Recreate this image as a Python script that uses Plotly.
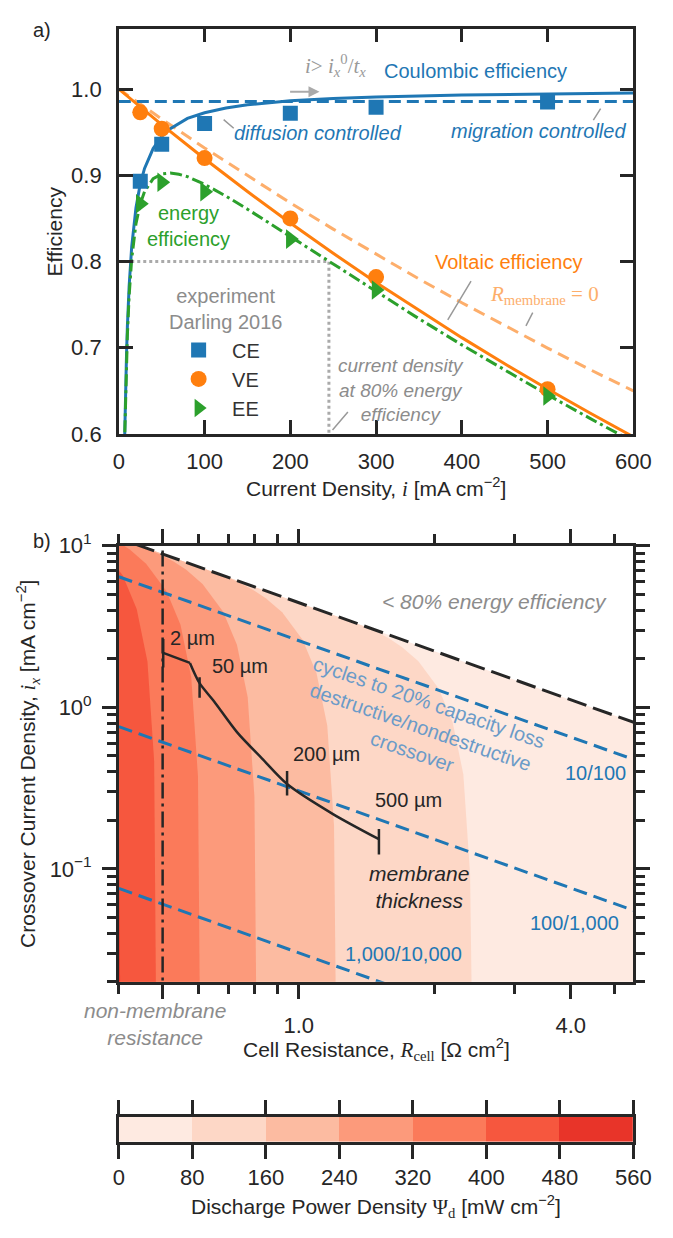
import math
import plotly.graph_objects as go

# ---------------- panel a) data ----------------
i_exp = [25, 50, 100, 200, 300, 500]
ce_exp = [0.893, 0.936, 0.960, 0.972, 0.979, 0.985]
ve_exp = [0.973, 0.954, 0.920, 0.850, 0.782, 0.652]
ee_exp = [0.867, 0.892, 0.881, 0.826, 0.767, 0.644]

ce_model_i = [6.9, 7, 8, 9, 10, 12, 15, 20, 25, 30, 40, 50, 60, 80, 100, 125, 150,
              200, 250, 300, 400, 500, 600]
ce_model = [0.600, 0.607, 0.656, 0.694, 0.725, 0.771, 0.817, 0.8625, 0.890, 0.908,
            0.931, 0.945, 0.954, 0.966, 0.9725, 0.978, 0.9817, 0.9863, 0.989, 0.9908,
            0.9931, 0.9945, 0.9954]
ce_migr_i = [0, 600]
ce_migr = [0.9855, 0.9855]

ve_model_i = [0, 50, 100, 150, 200, 250, 300, 350, 400, 450, 500, 550, 600]
ve_model = [1.0, 0.9588, 0.9192, 0.8812, 0.8447, 0.8096, 0.7757, 0.7432, 0.7117,
            0.6814, 0.6522, 0.6240, 0.5967]
ve_r0_i = [0, 50, 100, 150, 200, 250, 300, 350, 400, 450, 500, 550, 600]
ve_r0 = [1.0, 0.9653, 0.9317, 0.8993, 0.8679, 0.8376, 0.8082, 0.7798, 0.7522, 0.7255,
         0.6996, 0.6744, 0.6500]

ee_model_i = [7, 8, 9, 10, 12, 15, 20, 25, 30, 40, 50, 60, 70, 80, 100, 125, 150, 200,
              250, 300, 350, 400, 450, 500, 550, 590]
ee_model = [0.602, 0.648, 0.685, 0.715, 0.760, 0.803, 0.844, 0.867, 0.881, 0.896, 0.9015,
            0.9026, 0.9012, 0.8984, 0.8895, 0.8758, 0.8607, 0.8290, 0.7967, 0.7647,
            0.7337, 0.7033, 0.6739, 0.6454, 0.6178, 0.5962]

ee_target_i = [14.5, 245, 245]
ee_target = [0.8, 0.8, 0.6]

# ---------------- panel b) data ----------------
# boundaries of the discharge-power bands (R_cell [Ohm cm2], i_x [mA cm-2])
b80_R = [2.42, 2.3946, 2.3138, 2.1903, 2.0403, 1.8385, 1.6916, 1.5858, 1.4905, 1.4077, 1.3211]
b80_ix = [0.01, 0.0929, 0.3846, 0.8127, 1.3086, 1.9364, 2.3676, 2.6658, 2.9259, 3.1454, 3.3684]
b160_R = [1.21, 1.1973, 1.1569, 1.0952, 1.0202, 0.9193, 0.8458, 0.7929, 0.7453, 0.7039, 0.6606]
b160_ix = [0.01, 0.1858, 0.7692, 1.6254, 2.6172, 3.8728, 4.7352, 5.3316, 5.8518, 6.2908, 6.7368]
b240_R = [0.8067, 0.7982, 0.7713, 0.7301, 0.6801, 0.6128, 0.5639, 0.5286, 0.4968, 0.4692, 0.4404]
b240_ix = [0.01, 0.2787, 1.1538, 2.4381, 3.9258, 5.8092, 7.1028, 7.9974, 8.7777, 9.4362, 10.105]
b320_R = [0.605, 0.5987, 0.5785, 0.5476, 0.5101, 0.4596, 0.4229, 0.3965, 0.3726, 0.3519, 0.3303]
b320_ix = [0.01, 0.3716, 1.5384, 3.2508, 5.2344, 7.7456, 9.4704, 10.663, 11.704, 12.582, 13.474]
b400_R = [0.484, 0.4789, 0.4628, 0.4381, 0.4081, 0.3677, 0.3383, 0.3172, 0.2981, 0.2815, 0.2642]
b400_ix = [0.01, 0.4645, 1.923, 4.0635, 6.543, 9.682, 11.838, 13.329, 14.630, 15.727, 16.842]
b480_R = [0.4033, 0.3991, 0.3856, 0.3651, 0.3401, 0.3064, 0.2819, 0.2643, 0.2484, 0.2346, 0.2202]
b480_ix = [0.01, 0.5574, 2.3076, 4.8762, 7.8516, 11.618, 14.206, 15.995, 17.555, 18.872, 20.21]

limit_R = [0.2, 6.0]          # < 80 % energy efficiency limit
limit_ix = [22.25, 0.7417]

cyc1_R = [0.4, 5.5]; cyc1_ix = [6.43, 0.477]      # 10/100
cyc2_R = [0.4, 5.5]; cyc2_ix = [0.76, 0.0554]     # 100/1,000
cyc3_R = [0.4, 5.5]; cyc3_ix = [0.0757, 0.0055]   # 1,000/10,000

nonmem_R = [0.5, 0.5]; nonmem_ix = [0.01, 20]

membrane_R = [0.5015, 0.5746, 0.6036, 0.650, 0.731, 0.830, 0.9426, 1.191, 1.505]
membrane_ix = [2.176, 1.884, 1.411, 1.087, 0.70, 0.482, 0.3353, 0.2185, 0.1527]
mtick_R = [0.5015, 0.6036, 0.9426, 1.505]
mtick_lo = [1.765, 1.145, 0.285, 0.1227]
mtick_hi = [2.645, 1.535, 0.4036, 0.1765]
mtick_lab = ["2 µm", "50 µm", "200 µm", "500 µm"]
mlab_R = [0.514, 0.637, 0.963, 1.458]
mlab_ix = [2.693, 1.815, 0.5168, 0.2656]

levels = [0, 80, 160, 240, 320, 400, 480, 560]
level_colors = ['#feeae1', '#fdd7c6', '#fcbba1', '#fc9a7b', '#fb7a5a', '#f6573e', '#e83429']

# ---------------- layout geometry ----------------
W, H = 673, 1238
def px(x): return x / W
def py(y): return 1 - y / H
XD = [px(117), px(650.5)]
TOP_D = [py(428), py(13)]
BOT_D = [py(989), py(542.5)]
CB_D = [py(1153), py(1127)]

INK = '#262626'
BLUE, ORANGE, GREEN = '#1f77b4', '#ff7f0e', '#2ca02c'
LORANGE = '#fdae6b'
GRAY = '#8c8c8c'
FONT = 'Liberation Sans, Arial, sans-serif'
SERIF = 'Liberation Serif, Times New Roman, serif'

fig = go.Figure()

# ----- panel a traces -----
fig.add_trace(go.Scatter(x=ee_target_i, y=ee_target, mode='lines', xaxis='x', yaxis='y',
                         line=dict(color='#aaaaaa', width=3, dash='dot'), showlegend=False))
fig.add_trace(go.Scatter(x=ve_r0_i, y=ve_r0, mode='lines', xaxis='x', yaxis='y',
                         line=dict(color=LORANGE, width=3, dash='12px,7px'), showlegend=False))
fig.add_trace(go.Scatter(x=ce_migr_i, y=ce_migr, mode='lines', xaxis='x', yaxis='y',
                         line=dict(color=BLUE, width=3, dash='12px,6px'), showlegend=False))
fig.add_trace(go.Scatter(x=ce_model_i, y=ce_model, mode='lines', xaxis='x', yaxis='y',
                         line=dict(color=BLUE, width=3), showlegend=False))
fig.add_trace(go.Scatter(x=ve_model_i, y=ve_model, mode='lines', xaxis='x', yaxis='y',
                         line=dict(color=ORANGE, width=3), showlegend=False))
fig.add_trace(go.Scatter(x=ee_model_i, y=ee_model, mode='lines', xaxis='x', yaxis='y',
                         line=dict(color=GREEN, width=3, dash='12px,4px,3px,4px'), showlegend=False))
fig.add_trace(go.Scatter(x=i_exp, y=ce_exp, mode='markers', name='CE', xaxis='x', yaxis='y',
                         marker=dict(symbol='square', size=15, color=BLUE)))
fig.add_trace(go.Scatter(x=i_exp, y=ve_exp, mode='markers', name='VE', xaxis='x', yaxis='y',
                         marker=dict(symbol='circle', size=16, color=ORANGE)))
fig.add_trace(go.Scatter(x=i_exp, y=ee_exp, mode='markers', name='EE', xaxis='x', yaxis='y',
                         marker=dict(symbol='triangle-right', size=17, color=GREEN)))

# ----- panel b traces -----
fig.add_trace(go.Scatter(x=[limit_R[0], limit_R[1], limit_R[1], limit_R[0]],
                         y=[0.01, 0.01, limit_ix[1], limit_ix[0]],
                         mode='lines', fill='toself', fillcolor=level_colors[0],
                         line=dict(width=0, color=level_colors[0]), xaxis='x2', yaxis='y2',
                         showlegend=False, hoverinfo='skip'))
bounds = [(b80_R, b80_ix), (b160_R, b160_ix), (b240_R, b240_ix), (b320_R, b320_ix),
          (b400_R, b400_ix), (b480_R, b480_ix)]
for k, (bR, bix) in enumerate(bounds):
    fig.add_trace(go.Scatter(x=bR + [limit_R[0], limit_R[0]], y=bix + [limit_ix[0], 0.01],
                             mode='lines', fill='toself', fillcolor=level_colors[k + 1],
                             line=dict(width=0, color=level_colors[k + 1]),
                             xaxis='x2', yaxis='y2', showlegend=False, hoverinfo='skip'))

for cR, cix in [(cyc1_R, cyc1_ix), (cyc2_R, cyc2_ix), (cyc3_R, cyc3_ix)]:
    fig.add_trace(go.Scatter(x=cR, y=cix, mode='lines', xaxis='x2', yaxis='y2',
                             line=dict(color=BLUE, width=3, dash='14px,7px'), showlegend=False))
fig.add_trace(go.Scatter(x=limit_R, y=limit_ix, mode='lines', xaxis='x2', yaxis='y2',
                         line=dict(color=INK, width=3, dash='20px,7px'), showlegend=False))
fig.add_trace(go.Scatter(x=nonmem_R, y=nonmem_ix, mode='lines', xaxis='x2', yaxis='y2',
                         line=dict(color=INK, width=2.5, dash='16px,5px,3px,5px'), showlegend=False))
# membrane thickness curve: short flat part, then a smooth descending part
fig.add_trace(go.Scatter(x=membrane_R[:2], y=membrane_ix[:2], mode='lines', xaxis='x2', yaxis='y2',
                         line=dict(color=INK, width=2.5), showlegend=False))
fig.add_trace(go.Scatter(x=membrane_R[1:], y=membrane_ix[1:], mode='lines', xaxis='x2', yaxis='y2',
                         line=dict(color=INK, width=2.5, shape='spline', smoothing=0.8),
                         showlegend=False))
tx, ty = [], []
for r, lo, hi in zip(mtick_R, mtick_lo, mtick_hi):
    tx += [r, r, None]; ty += [lo, hi, None]
fig.add_trace(go.Scatter(x=tx, y=ty, mode='lines', xaxis='x2', yaxis='y2',
                         line=dict(color=INK, width=2.5), showlegend=False))

# ----- colour bar -----
mids = [(a + b) / 2 for a, b in zip(levels[:-1], levels[1:])]
cscale = [[(m - mids[0]) / (mids[-1] - mids[0]), c] for m, c in zip(mids, level_colors)]
fig.add_trace(go.Heatmap(x=mids, y=[0], z=[mids], xaxis='x3', yaxis='y3',
                         colorscale=cscale, zmin=mids[0], zmax=mids[-1], showscale=False,
                         hoverinfo='skip'))

# ---------------- axes ----------------
axis_common = dict(showline=True, linewidth=2.5, linecolor=INK, mirror='allticks',
                   showgrid=False, zeroline=False, tickcolor=INK, tickwidth=2.5,
                   tickfont=dict(family=FONT, size=22, color=INK))
fig.update_layout(
    width=W, height=H, margin=dict(l=0, r=0, t=0, b=0),
    paper_bgcolor='white', plot_bgcolor='white',
    font=dict(family=FONT, size=20, color=INK),
    xaxis=dict(domain=XD, anchor='y', range=[0, 600], tickmode='array',
               tickvals=[0, 100, 200, 300, 400, 500, 600], ticks='inside', ticklen=14,
               ticklabelstandoff=6, **axis_common),
    yaxis=dict(domain=TOP_D, anchor='x', range=[0.6, 1.07], tickmode='array',
               tickvals=[0.6, 0.7, 0.8, 0.9, 1.0], ticktext=['0.6', '0.7', '0.8', '0.9', '1.0'],
               ticks='inside', ticklen=14, ticklabelstandoff=10, **axis_common),
    xaxis2=dict(domain=XD, anchor='y2', type='log',
                range=[math.log10(0.4), math.log10(5.5)], tickmode='array',
                tickvals=[0.5, 1, 4], ticktext=['', '1.0', '4.0'], ticks='outside', ticklen=14,
                ticklabelstandoff=8,
                minor=dict(tickmode='array', tickvals=[0.4, 0.6, 0.7, 0.8, 0.9, 2, 3, 5],
                           ticks='outside', ticklen=9, tickwidth=2.5, tickcolor=INK),
                **axis_common),
    yaxis2=dict(domain=BOT_D, anchor='x2', type='log',
                range=[math.log10(0.02), 1], tickmode='array', tickvals=[0.1, 1, 10],
                ticktext=['10<sup>−1</sup>', '10<sup>0</sup>', '10<sup>1</sup>'],
                ticks='outside', ticklen=14, ticklabelstandoff=6,
                minor=dict(tickmode='array',
                           tickvals=[0.02, 0.03, 0.04, 0.05, 0.06, 0.07, 0.08, 0.09,
                                     0.2, 0.3, 0.4, 0.5, 0.6, 0.7, 0.8, 0.9,
                                     2, 3, 4, 5, 6, 7, 8, 9],
                           ticks='outside', ticklen=9, tickwidth=2.5, tickcolor=INK),
                **axis_common),
    xaxis3=dict(domain=XD, anchor='y3', range=[0, 560], tickmode='array', tickvals=levels,
                ticks='outside', ticklen=14, ticklabelstandoff=0, **axis_common),
    yaxis3=dict(domain=CB_D, anchor='x3', range=[-0.5, 0.5], showticklabels=False,
                ticks='', showline=True, linewidth=2.5, linecolor=INK, mirror=True,
                showgrid=False, zeroline=False),
    legend=dict(x=px(165), y=py(322), xanchor='left', yanchor='top',
                bgcolor='rgba(0,0,0,0)', font=dict(family=FONT, size=20, color='#333333'),
                itemwidth=57, tracegroupgap=0),
)

# ---------------- annotations ----------------
ann = []
def a(text, x, y, xref='x', yref='y', color=INK, size=20, **kw):
    d = dict(text=text, x=x, y=y, xref=xref, yref=yref, showarrow=False,
             xanchor='center', yanchor='middle',
             font=dict(family=kw.pop('family', FONT), size=size, color=color))
    d.update(kw)
    ann.append(d)

def leader(x0, y0, x1, y1, xr='x', yr='y'):
    ann.append(dict(text='', x=x1, y=y1, ax=x0, ay=y0, xref=xr, yref=yr, axref=xr, ayref=yr,
                    showarrow=True, arrowhead=0, arrowwidth=1.5, arrowcolor='#999999',
                    standoff=0, startstandoff=0))

# panel labels
a('a)', px(37), py(14), 'paper', 'paper', size=20)
a('b)', px(37), py(538), 'paper', 'paper', size=20)

# panel a
a('Coulombic efficiency', 416, 1.021, color=BLUE)
a('<i>diffusion controlled</i>', 232, 0.949, color=BLUE)
a('<i>migration controlled</i>', 490, 0.951, color=BLUE)
a('energy<br>efficiency', 81, 0.841, color=GREEN)
a('Voltaic efficiency', 455, 0.800, color=ORANGE)
a('<i>R</i><sub>membrane</sub> = 0', 496, 0.761, color=LORANGE, family=SERIF, size=21)
a('experiment<br>Darling 2016', 124, 0.7455, color=GRAY)
a('<i>current density<br>at 80% energy<br>efficiency</i>', 329, 0.6515, color=GRAY, size=19)
a('<i>i</i>&gt; <i>i</i><sub><i>x</i></sub><sup>0</sup>/<i>t</i><sub><i>x</i></sub>',
  253, 1.027, color='#999999', family=SERIF, size=21)
ann.append(dict(text='', x=234, y=0.997, ax=198, ay=0.997, xref='x', yref='y', axref='x',
                ayref='y', showarrow=True, arrowhead=2, arrowsize=1.1, arrowwidth=2,
                arrowcolor='#aaaaaa', standoff=0))
leader(120.5, 0.966, 134, 0.9545)
leader(563, 0.979, 553.4, 0.964)
leader(411.8, 0.779, 383.6, 0.7322)
leader(483.6, 0.7424, 474.8, 0.7253)
leader(268.6, 0.6273, 249.2, 0.6045)

# panel b (log axes -> annotation positions in log10 units)
L = math.log10
a('<i>&lt; 80% energy efficiency</i>', L(2.715), L(4.495), 'x2', 'y2', color=GRAY, size=21)
a('cycles to 20% capacity loss<br>destructive/nondestructive<br>crossover',
  L(1.862), L(0.7566), 'x2', 'y2', color='#6b9bc8', size=20, textangle=19)
a('10/100', L(4.544), L(0.391), 'x2', 'y2', color=BLUE, size=20)
a('100/1,000', L(4.076), L(0.046), 'x2', 'y2', color=BLUE, size=20)
a('1,000/10,000', L(1.71), L(0.0296), 'x2', 'y2', color=BLUE, size=20)
for lab, r, ix in zip(mtick_lab, mlab_R, mlab_ix):
    a(lab, L(r), L(ix), 'x2', 'y2', color=INK, size=20, xanchor='left')
a('<i>membrane<br>thickness</i>', L(1.847), L(0.0771), 'x2', 'y2', color=INK, size=21)
a('<i>non-membrane<br>resistance</i>', px(155), py(1032), 'paper', 'paper', color=GRAY, size=21)

# axis titles
a('Current Density, <span style="font-family:Liberation Serif"><i>i</i></span> [mA cm<sup>−2</sup>]',
  px(383.75), py(483), 'paper', 'paper', size=21)
a('Efficiency', px(50), py(220.5), 'paper', 'paper', size=21, textangle=-90)
a('Crossover Current Density, <span style="font-family:Liberation Serif"><i>i<sub>x</sub></i></span> [mA cm<sup>−2</sup>]',
  px(23), py(765.7), 'paper', 'paper', size=21, textangle=-90)
a('Cell Resistance, <span style="font-family:Liberation Serif"><i>R</i><sub>cell</sub></span> [Ω cm<sup>2</sup>]',
  px(384.6), py(1058), 'paper', 'paper', size=21)
a('Discharge Power Density <span style="font-family:Liberation Serif">Ψ<sub>d</sub></span> [mW cm<sup>−2</sup>]',
  px(383.75), py(1219), 'paper', 'paper', size=21)

fig.update_layout(annotations=ann)
fig.write_html('out.html')
